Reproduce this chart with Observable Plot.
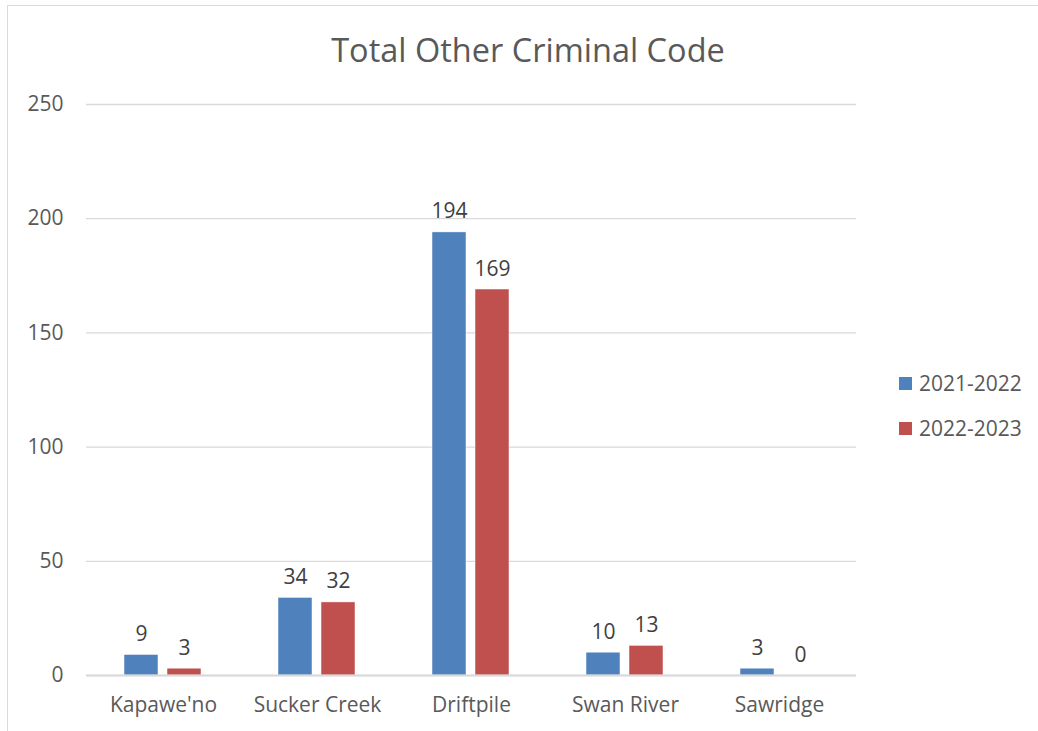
<!DOCTYPE html>
<html>
<head>
<meta charset="utf-8">
<script src="https://cdn.jsdelivr.net/npm/d3@7"></script>
<script src="https://cdn.jsdelivr.net/npm/@observablehq/plot@0.6"></script>
<style>
  html, body { margin: 0; padding: 0; background: #fff; }
  body { width: 1038px; height: 731px; position: relative; overflow: hidden; font-family: "Open Sans", sans-serif; color: #595959; }
  #frame { position: absolute; left: 7px; top: 5px; width: 1040px; height: 740px; border: 1px solid #d9d9d9; box-sizing: border-box; }
  #title { position: absolute; left: 0; width: 1056px; top: 28px; text-align: center; font-size: 32.5px; color: #595959; line-height: 44px; }
  #chart { position: absolute; left: 0; top: 0; }
  #legend { position: absolute; left: 899px; top: 370px; font-size: 21px; color: #595959; }
  .li { display: flex; align-items: center; height: 26px; margin-bottom: 19px; }
  .sw { width: 13px; height: 13px; margin-right: 7px; }
</style>
</head>
<body>
<div id="frame"></div>
<div id="title">Total Other Criminal Code</div>
<div id="chart"></div>
<div id="legend"></div>
<script>
const categories = ["Kapawe'no", "Sucker Creek", "Driftpile", "Swan River", "Sawridge"];
const series = ["2021-2022", "2022-2023"];
const values2021 = [9, 34, 194, 10, 3];
const values2022 = [3, 32, 169, 13, 0];
const colors = ["#4F81BD", "#C0504D"];
const yTicks = [0, 50, 100, 150, 200, 250];

const data = [];
categories.forEach((c, i) => {
  data.push({category: c, series: series[0], value: values2021[i]});
  data.push({category: c, series: series[1], value: values2022[i]});
});

const chart = Plot.plot({
  width: 1038,
  height: 731,
  marginLeft: 84,
  marginRight: 181,
  marginTop: 104,
  marginBottom: 56,
  style: {fontFamily: "'Open Sans', sans-serif", fontSize: "21px", color: "#595959", background: "transparent"},
  fx: {domain: categories, padding: 0, label: null},
  x: {domain: series, paddingInner: 0.2045, paddingOuter: 0.861, axis: null},
  y: {domain: [0, 250], label: null},
  color: {domain: series, range: colors},
  marks: [
    Plot.gridY(yTicks, {stroke: "#d9d9d9", strokeOpacity: 1, strokeWidth: 1.3}),
    Plot.axisY(yTicks, {tickSize: 0, tickPadding: 23, fontSize: 21, fill: "#595959", label: null}),
    Plot.axisFx({anchor: "bottom", tickSize: 0, tickPadding: 22, fontSize: 21, fill: "#595959", label: null}),
    Plot.barY(data, {fx: "category", x: "series", y: "value", fill: "series", stroke: "#fff", strokeWidth: 0.5}),
    Plot.ruleY([0], {stroke: "#d9d9d9", strokeWidth: 2}),
    Plot.text(data, {fx: "category", x: "series", y: "value", text: d => String(d.value), lineAnchor: "bottom", dy: -14, fontSize: 21, fill: "#404040"})
  ]
});
document.getElementById("chart").appendChild(chart);

const legend = document.getElementById("legend");
series.forEach((s, i) => {
  const row = document.createElement("div");
  row.className = "li";
  const sw = document.createElement("div");
  sw.className = "sw";
  sw.style.background = colors[i];
  const t = document.createElement("span");
  t.textContent = s;
  row.appendChild(sw);
  row.appendChild(t);
  legend.appendChild(row);
});
</script>
</body>
</html>
